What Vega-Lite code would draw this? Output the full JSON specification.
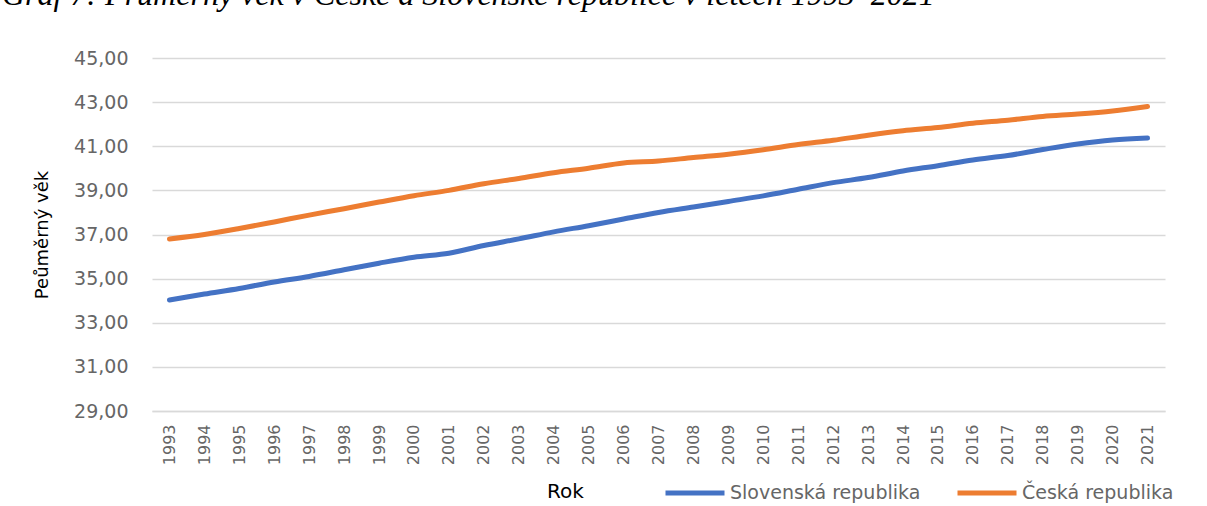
{
  "$schema": "https://vega.github.io/schema/vega-lite/v6.json",
  "width": 1013,
  "height": 353,
  "autosize": {"type": "none"},
  "padding": {"left": 152, "top": 58, "right": 42, "bottom": 95},
  "background": "white",
  "title": {
    "text": "Graf 7: Průměrný věk v České a Slovenské republice v letech 1993–2021",
    "anchor": "start",
    "frame": "group",
    "dx": -150,
    "offset": 12,
    "baseline": "alphabetic",
    "font": "Liberation Serif",
    "fontStyle": "italic",
    "fontWeight": "normal",
    "fontSize": 32,
    "color": "#000000"
  },
  "config": {"view": {"stroke": null}},
  "data": {
    "values": [
      {"rok": 1993, "zeme": "Slovenská republika", "vek": 34.03},
      {"rok": 1994, "zeme": "Slovenská republika", "vek": 34.3},
      {"rok": 1995, "zeme": "Slovenská republika", "vek": 34.55},
      {"rok": 1996, "zeme": "Slovenská republika", "vek": 34.85},
      {"rok": 1997, "zeme": "Slovenská republika", "vek": 35.1},
      {"rok": 1998, "zeme": "Slovenská republika", "vek": 35.4},
      {"rok": 1999, "zeme": "Slovenská republika", "vek": 35.7},
      {"rok": 2000, "zeme": "Slovenská republika", "vek": 35.97},
      {"rok": 2001, "zeme": "Slovenská republika", "vek": 36.15},
      {"rok": 2002, "zeme": "Slovenská republika", "vek": 36.5},
      {"rok": 2003, "zeme": "Slovenská republika", "vek": 36.8},
      {"rok": 2004, "zeme": "Slovenská republika", "vek": 37.12},
      {"rok": 2005, "zeme": "Slovenská republika", "vek": 37.4},
      {"rok": 2006, "zeme": "Slovenská republika", "vek": 37.7},
      {"rok": 2007, "zeme": "Slovenská republika", "vek": 38.0},
      {"rok": 2008, "zeme": "Slovenská republika", "vek": 38.25},
      {"rok": 2009, "zeme": "Slovenská republika", "vek": 38.5},
      {"rok": 2010, "zeme": "Slovenská republika", "vek": 38.75},
      {"rok": 2011, "zeme": "Slovenská republika", "vek": 39.05},
      {"rok": 2012, "zeme": "Slovenská republika", "vek": 39.35},
      {"rok": 2013, "zeme": "Slovenská republika", "vek": 39.58},
      {"rok": 2014, "zeme": "Slovenská republika", "vek": 39.88},
      {"rok": 2015, "zeme": "Slovenská republika", "vek": 40.12},
      {"rok": 2016, "zeme": "Slovenská republika", "vek": 40.38},
      {"rok": 2017, "zeme": "Slovenská republika", "vek": 40.58},
      {"rok": 2018, "zeme": "Slovenská republika", "vek": 40.85},
      {"rok": 2019, "zeme": "Slovenská republika", "vek": 41.1},
      {"rok": 2020, "zeme": "Slovenská republika", "vek": 41.28},
      {"rok": 2021, "zeme": "Slovenská republika", "vek": 41.37},
      {"rok": 1993, "zeme": "Česká republika", "vek": 36.8},
      {"rok": 1994, "zeme": "Česká republika", "vek": 37.0},
      {"rok": 1995, "zeme": "Česká republika", "vek": 37.27},
      {"rok": 1996, "zeme": "Česká republika", "vek": 37.57},
      {"rok": 1997, "zeme": "Česká republika", "vek": 37.88},
      {"rok": 1998, "zeme": "Česká republika", "vek": 38.17},
      {"rok": 1999, "zeme": "Česká republika", "vek": 38.47},
      {"rok": 2000, "zeme": "Česká republika", "vek": 38.76},
      {"rok": 2001, "zeme": "Česká republika", "vek": 39.0},
      {"rok": 2002, "zeme": "Česká republika", "vek": 39.3},
      {"rok": 2003, "zeme": "Česká republika", "vek": 39.54},
      {"rok": 2004, "zeme": "Česká republika", "vek": 39.8},
      {"rok": 2005, "zeme": "Česká republika", "vek": 40.0},
      {"rok": 2006, "zeme": "Česká republika", "vek": 40.24},
      {"rok": 2007, "zeme": "Česká republika", "vek": 40.33},
      {"rok": 2008, "zeme": "Česká republika", "vek": 40.49},
      {"rok": 2009, "zeme": "Česká republika", "vek": 40.64},
      {"rok": 2010, "zeme": "Česká republika", "vek": 40.84},
      {"rok": 2011, "zeme": "Česká republika", "vek": 41.08},
      {"rok": 2012, "zeme": "Česká republika", "vek": 41.27},
      {"rok": 2013, "zeme": "Česká republika", "vek": 41.5},
      {"rok": 2014, "zeme": "Česká republika", "vek": 41.7},
      {"rok": 2015, "zeme": "Česká republika", "vek": 41.85},
      {"rok": 2016, "zeme": "Česká republika", "vek": 42.04},
      {"rok": 2017, "zeme": "Česká republika", "vek": 42.18},
      {"rok": 2018, "zeme": "Česká republika", "vek": 42.35},
      {"rok": 2019, "zeme": "Česká republika", "vek": 42.46},
      {"rok": 2020, "zeme": "Česká republika", "vek": 42.6},
      {"rok": 2021, "zeme": "Česká republika", "vek": 42.8}
    ]
  },
  "mark": {"type": "line", "strokeWidth": 5, "strokeCap": "round", "strokeJoin": "round", "interpolate": "monotone"},
  "encoding": {
    "x": {
      "field": "rok",
      "type": "ordinal",
      "scale": {"type": "point", "padding": 0.5},
      "axis": {
        "title": "Rok",
        "titleX": 413,
        "titleY": 80,
        "titleBaseline": "middle",
        "titleAlign": "center",
        "titleFont": "DejaVu Sans",
        "titleFontSize": 20,
        "titleFontWeight": "normal",
        "titleColor": "#000000",
        "labelAngle": -90,
        "labelFont": "DejaVu Sans",
        "labelFontSize": 16,
        "labelColor": "#666666",
        "labelPadding": 13,
        "ticks": false,
        "grid": false,
        "domain": true,
        "domainColor": "#d9d9d9",
        "domainWidth": 1.5
      }
    },
    "y": {
      "field": "vek",
      "type": "quantitative",
      "scale": {"domain": [29, 45], "nice": false, "zero": false},
      "axis": {
        "values": [29, 31, 33, 35, 37, 39, 41, 43, 45],
        "labelExpr": "replace(format(datum.value, '.2f'), '.', ',')",
        "grid": true,
        "gridColor": "#d9d9d9",
        "gridWidth": 1.5,
        "domain": false,
        "ticks": false,
        "labelPadding": 24,
        "labelFont": "DejaVu Sans",
        "labelFontSize": 19,
        "labelColor": "#666666",
        "title": "Peůměrný věk",
        "titleFont": "DejaVu Sans",
        "titleFontSize": 18,
        "titleFontWeight": "normal",
        "titleColor": "#000000",
        "titlePadding": 22
      }
    },
    "color": {
      "field": "zeme",
      "type": "nominal",
      "scale": {"domain": ["Slovenská republika", "Česká republika"], "range": ["#4472C4", "#ED7D31"]},
      "legend": {
        "orient": "none",
        "legendX": 511,
        "legendY": 403,
        "direction": "horizontal",
        "title": null,
        "symbolType": "stroke",
        "symbolSize": 3481,
        "symbolStrokeWidth": 5,
        "labelFont": "DejaVu Sans",
        "labelFontSize": 19,
        "labelColor": "#666666",
        "labelLimit": 400,
        "labelOffset": 3,
        "columnPadding": 26
      }
    }
  }
}
